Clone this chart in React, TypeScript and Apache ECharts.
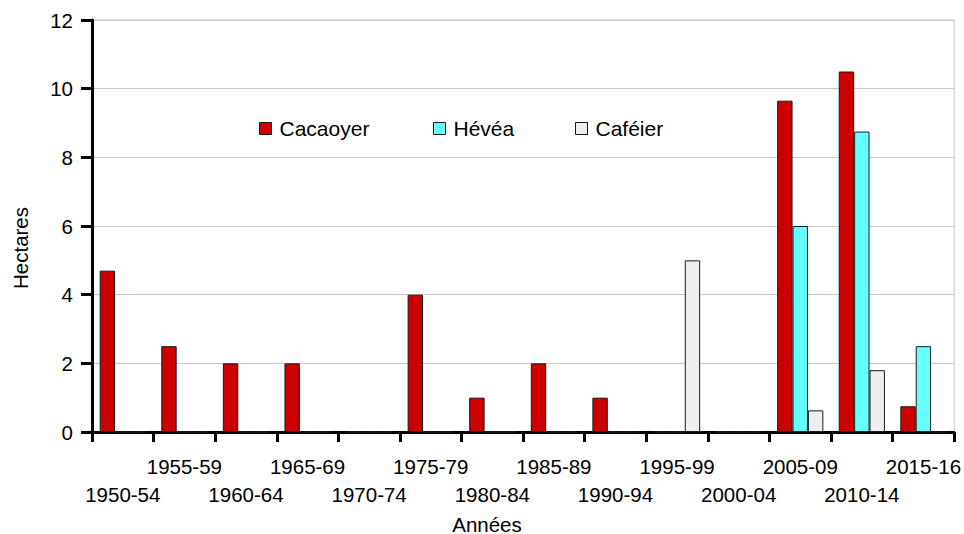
import React, { useEffect, useRef } from "react";
import * as echarts from "echarts";

const categories = [
  "1950-54", "1955-59", "1960-64", "1965-69", "1970-74", "1975-79", "1980-84",
  "1985-89", "1990-94", "1995-99", "2000-04", "2005-09", "2010-14", "2015-16",
];
const cacaoyer = [4.7, 2.5, 2, 2, 0, 4, 1, 2, 1, 0, 0, 9.65, 10.5, 0.75];
const hevea = [0, 0, 0, 0, 0, 0, 0, 0, 0, 0, 0, 6, 8.75, 2.5];
const cafeier = [0, 0, 0, 0, 0, 0, 0, 0, 0, 5, 0, 0.63, 1.8, 0];
const yTicks = { min: 0, max: 12, interval: 2 };

const FONT = "'Liberation Sans', Arial, Helvetica, sans-serif";
const FS = 20.5;

export default function App() {
  const ref = useRef<HTMLDivElement>(null);
  useEffect(() => {
    document.body.style.margin = "0";
    document.body.style.overflow = "hidden";
    if (!ref.current) return;
    const chart = echarts.init(ref.current, undefined, { renderer: "svg" });
    const border = { borderColor: "#1a1a1a", borderWidth: 1 };
    const mkLegend = (name: string, left: number) => ({
      data: [name],
      left,
      top: 118,
      padding: 0,
      itemWidth: 12,
      itemHeight: 12,
      icon: "rect",
      itemStyle: border,
      textStyle: { color: "#000", fontFamily: FONT, fontSize: 21, padding: [0, 0, 0, 3] },
    });
    chart.setOption({
      animation: false,
      backgroundColor: "#fff",
      textStyle: { fontFamily: FONT },
      grid: {
        left: 92,
        right: 9,
        top: 20,
        bottom: 102,
        show: true,
        borderColor: "#c8c8c8",
        borderWidth: 1,
      },
      legend: [
        mkLegend("Cacaoyer", 259),
        mkLegend("Hévéa", 433),
        mkLegend("Caféier", 575),
      ],
      xAxis: {
        type: "category",
        data: categories,
        axisLine: { lineStyle: { color: "#000", width: 3 } },
        axisTick: { show: true, length: 10, lineStyle: { color: "#000", width: 3 } },
        axisLabel: {
          interval: 0,
          margin: 20,
          color: "#000",
          fontFamily: FONT,
          fontSize: FS,
          lineHeight: 28,
          formatter: (v: string, i: number) => (i % 2 === 0 ? "\n" + v : v),
        },
        splitLine: { show: false },
      },
      yAxis: {
        type: "value",
        min: yTicks.min,
        max: yTicks.max,
        interval: yTicks.interval,
        axisLine: { show: true, lineStyle: { color: "#000", width: 3 } },
        axisTick: { show: true, length: 11, lineStyle: { color: "#000", width: 3 } },
        axisLabel: { margin: 19, color: "#000", fontFamily: FONT, fontSize: FS },
        splitLine: { lineStyle: { color: "#c8c8c8", width: 1 } },
      },
      graphic: [
        {
          type: "text",
          x: 487,
          y: 524,
          style: {
            text: "Années",
            fill: "#000",
            font: `${FS}px ${FONT}`,
            align: "center",
            verticalAlign: "middle",
          },
        },
        {
          type: "text",
          x: 20,
          y: 248,
          rotation: Math.PI / 2,
          style: {
            text: "Hectares",
            fill: "#000",
            font: `${FS}px ${FONT}`,
            align: "center",
            verticalAlign: "middle",
          },
        },
      ],
      series: [
        {
          name: "Cacaoyer",
          type: "bar",
          data: cacaoyer,
          barGap: "0%",
          barCategoryGap: "25%",
          itemStyle: { color: "#cc0000", ...border },
        },
        {
          name: "Hévéa",
          type: "bar",
          data: hevea,
          itemStyle: { color: "#66ffff", ...border },
        },
        {
          name: "Caféier",
          type: "bar",
          data: cafeier,
          itemStyle: { color: "#eeeeee", ...border },
        },
      ],
    });
    return () => chart.dispose();
  }, []);
  return <div ref={ref} style={{ width: 964, height: 534 }} />;
}
